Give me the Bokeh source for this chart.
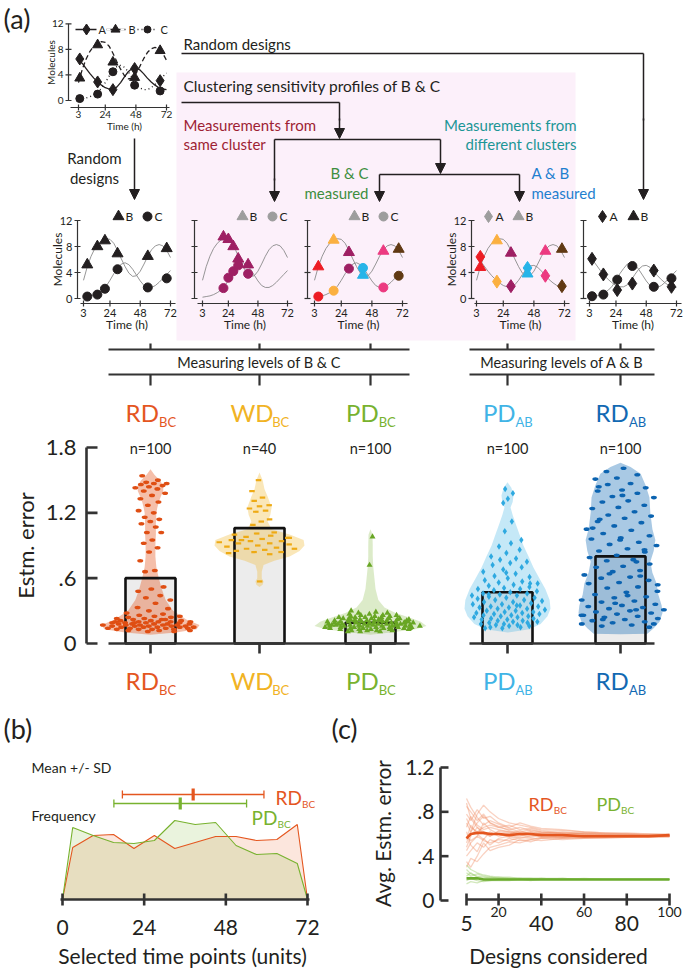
import numpy as np
from bokeh.plotting import figure
from bokeh.models import Range1d, Arrow, NormalHead
from bokeh.core.properties import value
from bokeh.embed import file_html
from bokeh.resources import INLINE

# ======================= DATA =======================
time_grid = [3, 6, 9, 12, 15, 18, 21, 24, 27, 30, 33, 36, 39, 42, 45, 48, 51, 54, 57, 60, 63, 66, 69, 72]
level_A = [6.4, 5.8, 5.0, 4.2, 3.5, 2.9, 2.4, 2.0, 1.8, 1.8, 2.1, 2.8, 3.7, 4.5, 5.0, 5.1, 4.8, 4.2, 3.5, 2.9, 2.4, 2.0, 1.8, 1.7]
level_B = [2.8, 4.9, 6.5, 7.7, 8.5, 9.0, 9.2, 9.1, 8.5, 7.4, 6.1, 4.9, 3.9, 3.4, 3.5, 4.2, 5.3, 6.5, 7.5, 8.1, 8.3, 8.1, 7.4, 6.3]
level_C = [0.2, 0.3, 0.4, 0.6, 0.9, 1.3, 1.9, 2.8, 3.8, 4.6, 5.3, 5.5, 5.2, 4.5, 3.6, 2.7, 2.0, 1.7, 1.7, 2.0, 2.5, 3.1, 3.7, 4.3]
ts_xticks = [3, 24, 48, 72]
ts_yticks = [0, 4, 8, 12]

example_t = [4, 18, 30, 47, 67]
example_A = [6.5, 2.9, 1.7, 5.0, 3.1]
example_B = [3.5, 8.7, 6.0, 3.6, 7.8]
example_C = [0.3, 1.0, 4.5, 2.4, 1.5]

rd_bc_t = [6, 14, 20, 30, 54, 69]
rd_bc_B = [5.2, 8.0, 8.9, 6.9, 6.5, 7.7]
rd_bc_C = [0.3, 0.6, 1.5, 4.5, 1.7, 3.1]

wd_bc_t = [20, 24, 28, 32, 40]
wd_bc_B = [9.5, 9.1, 8.0, 6.1, 5.2]
wd_bc_C = [1.6, 3.2, 4.2, 5.1, 3.8]

pd_bc_t = [6, 18, 30, 41, 57, 69]
pd_bc_B = [4.9, 9.0, 7.1, 3.6, 7.3, 7.6]
pd_bc_C = [0.3, 1.2, 4.6, 4.7, 1.7, 3.5]

pd_ab_t = [6, 19, 30, 43, 57, 70]
pd_ab_A = [6.4, 2.6, 1.9, 4.7, 3.5, 1.9]
pd_ab_B = [4.8, 8.9, 7.0, 3.8, 7.3, 7.6]

rd_ab_t = [5, 14, 25, 37, 54, 68]
rd_ab_A = [6.1, 3.7, 1.3, 2.3, 4.3, 1.8]
rd_ab_C = [0.35, 0.6, 2.9, 5.0, 1.8, 3.1]

group_main = ["RD", "WD", "PD", "PD", "RD"]
group_sub = ["BC", "BC", "BC", "AB", "AB"]
n_labels = ["n=100", "n=40", "n=100", "n=100", "n=100"]
mean_error = [0.60, 1.06, 0.19, 0.47, 0.80]
err_yticks = [0, 0.6, 1.2, 1.8]
err_ylabels = ["0", ".6", "1.2", "1.8"]

err_RD_BC = [1.54, 1.50, 1.48, 1.47, 1.47, 1.46, 1.45, 1.44, 1.43, 1.42,
             1.40, 1.38, 1.36, 1.33, 1.30, 1.27, 1.22, 1.20, 1.16, 1.14,
             1.12, 1.10, 1.07, 1.02, 1.02, 0.95, 0.92, 0.88, 0.84, 0.76,
             0.67, 0.66, 0.52, 0.50, 0.48, 0.44, 0.42, 0.40, 0.37, 0.33,
             0.32, 0.30, 0.28, 0.27, 0.26, 0.25, 0.25, 0.24, 0.24, 0.23,
             0.23, 0.22, 0.22, 0.21, 0.21, 0.21, 0.20, 0.20, 0.20, 0.20,
             0.19, 0.19, 0.19, 0.19, 0.18, 0.18, 0.18, 0.18, 0.18, 0.17,
             0.17, 0.17, 0.17, 0.17, 0.16, 0.16, 0.16, 0.16, 0.16, 0.15,
             0.15, 0.15, 0.15, 0.15, 0.14, 0.14, 0.14, 0.14, 0.13, 0.13,
             0.13, 0.13, 0.12, 0.12, 0.12, 0.11, 0.11, 0.20, 0.22, 0.19]
err_WD_BC = [1.50, 1.40, 1.34, 1.31, 1.27, 1.26, 1.24, 1.22, 1.21, 1.14,
             1.12, 1.09, 1.02, 1.01, 1.00, 0.99, 0.98, 0.97, 0.96, 0.95,
             0.94, 0.94, 0.93, 0.92, 0.92, 0.91, 0.90, 0.89, 0.88, 0.87,
             0.87, 0.86, 0.85, 0.84, 0.84, 0.83, 0.82, 0.95, 0.97, 0.57]
err_PD_BC = [0.98, 0.72, 0.30, 0.29, 0.28, 0.28, 0.27, 0.27, 0.26, 0.26,
             0.26, 0.25, 0.25, 0.25, 0.24, 0.24, 0.24, 0.24, 0.23, 0.23,
             0.23, 0.23, 0.22, 0.22, 0.22, 0.22, 0.22, 0.21, 0.21, 0.21,
             0.21, 0.21, 0.21, 0.20, 0.20, 0.20, 0.20, 0.20, 0.20, 0.19,
             0.19, 0.19, 0.19, 0.19, 0.19, 0.18, 0.18, 0.18, 0.18, 0.18,
             0.18, 0.17, 0.17, 0.17, 0.17, 0.17, 0.17, 0.16, 0.16, 0.16,
             0.16, 0.16, 0.16, 0.15, 0.15, 0.15, 0.15, 0.15, 0.15, 0.14,
             0.14, 0.14, 0.14, 0.14, 0.13, 0.13, 0.13, 0.13, 0.13, 0.12,
             0.12, 0.12, 0.12, 0.11, 0.11, 0.11, 0.20, 0.19, 0.18, 0.17,
             0.16, 0.15, 0.21, 0.22, 0.19, 0.18, 0.17, 0.16, 0.20, 0.14]
err_PD_AB = [1.42, 1.38, 1.33, 1.29, 1.12, 1.03, 0.95, 0.92, 0.89, 0.86,
             0.83, 0.80, 0.78, 0.77, 0.75, 0.74, 0.72, 0.70, 0.68, 0.66,
             0.64, 0.62, 0.61, 0.60, 0.58, 0.57, 0.56, 0.55, 0.54, 0.53,
             0.52, 0.51, 0.50, 0.50, 0.49, 0.48, 0.47, 0.46, 0.46, 0.45,
             0.44, 0.44, 0.43, 0.42, 0.42, 0.41, 0.40, 0.40, 0.39, 0.38,
             0.38, 0.37, 0.36, 0.36, 0.35, 0.34, 0.34, 0.33, 0.33, 0.32,
             0.32, 0.31, 0.30, 0.30, 0.29, 0.29, 0.28, 0.28, 0.27, 0.27,
             0.26, 0.26, 0.25, 0.25, 0.24, 0.24, 0.23, 0.23, 0.22, 0.22,
             0.21, 0.21, 0.20, 0.20, 0.19, 0.19, 0.18, 0.18, 0.17, 0.17,
             0.16, 0.16, 0.15, 0.15, 0.14, 0.14, 0.35, 0.45, 0.55, 0.65]
err_RD_AB = [1.61, 1.58, 1.55, 1.52, 1.51, 1.47, 1.46, 1.43, 1.41, 1.40,
             1.38, 1.35, 1.34, 1.31, 1.30, 1.27, 1.25, 1.24, 1.21, 1.18,
             1.17, 1.15, 1.12, 1.11, 1.08, 1.05, 1.04, 1.01, 0.99, 0.97,
             0.96, 0.93, 0.91, 0.90, 0.87, 0.85, 0.84, 0.81, 0.79, 0.77,
             0.76, 0.73, 0.71, 0.70, 0.67, 0.66, 0.63, 0.61, 0.60, 0.58,
             0.56, 0.55, 0.52, 0.51, 0.48, 0.47, 0.45, 0.43, 0.42, 0.40,
             0.39, 0.38, 0.36, 0.35, 0.34, 0.33, 0.32, 0.31, 0.30, 0.29,
             0.28, 0.27, 0.26, 0.25, 0.24, 0.23, 0.22, 0.21, 0.20, 0.19,
             0.18, 0.17, 0.16, 0.15, 0.95, 1.06, 0.75, 0.64, 0.54, 0.44,
             1.14, 0.86, 0.37, 0.26, 0.31, 0.22, 0.18, 1.36, 1.44, 0.62]

# violin outlines: relative density at error levels
vio_lev_RD_BC = [0.08, 0.10, 0.13, 0.17, 0.22, 0.30, 0.40, 0.50, 0.60, 0.70, 0.80, 0.90, 1.00, 1.10, 1.20, 1.25, 1.30, 1.35, 1.40, 1.45, 1.50, 1.55, 1.60]
vio_den_RD_BC = [0.00, 0.52, 0.94, 1.00, 0.73, 0.46, 0.31, 0.23, 0.17, 0.12, 0.10, 0.10, 0.11, 0.11, 0.12, 0.14, 0.17, 0.21, 0.26, 0.26, 0.19, 0.08, 0.00]
vio_lev_WD_BC = [0.52, 0.54, 0.57, 0.60, 0.66, 0.72, 0.76, 0.80, 0.85, 0.90, 0.95, 1.00, 1.05, 1.12, 1.18, 1.25, 1.35, 1.42, 1.50, 1.57]
vio_den_WD_BC = [0.00, 0.07, 0.09, 0.05, 0.05, 0.09, 0.33, 0.67, 0.89, 1.00, 0.98, 0.67, 0.27, 0.18, 0.24, 0.27, 0.18, 0.11, 0.07, 0.00]
vio_lev_PD_BC = [0.08, 0.10, 0.13, 0.16, 0.20, 0.24, 0.28, 0.33, 0.40, 0.50, 0.60, 0.70, 0.80, 0.90, 1.00, 1.05]
vio_den_PD_BC = [0.00, 0.36, 0.80, 1.00, 0.90, 0.68, 0.45, 0.25, 0.14, 0.09, 0.07, 0.05, 0.04, 0.04, 0.035, 0.00]
vio_lev_PD_AB = [0.10, 0.13, 0.18, 0.25, 0.32, 0.40, 0.50, 0.60, 0.70, 0.80, 0.90, 1.00, 1.10, 1.18, 1.25, 1.30, 1.36, 1.43, 1.48]
vio_den_PD_AB = [0.00, 0.51, 0.77, 0.93, 1.00, 0.98, 0.88, 0.74, 0.60, 0.49, 0.37, 0.28, 0.19, 0.12, 0.07, 0.12, 0.14, 0.09, 0.00]
vio_lev_RD_AB = [0.085, 0.09, 0.14, 0.20, 0.28, 0.35, 0.45, 0.55, 0.65, 0.75, 0.85, 0.95, 1.05, 1.20, 1.34, 1.45, 1.56, 1.62, 1.66]
vio_den_RD_AB = [0.00, 0.64, 0.79, 0.93, 1.00, 0.98, 0.90, 0.86, 0.76, 0.71, 0.79, 0.83, 0.76, 0.71, 0.69, 0.60, 0.48, 0.24, 0.00]

# panel (b)
bin_t = [0, 3, 9, 15, 21, 27, 33, 39, 45, 51, 57, 63, 69, 72]
freq_RD = [0, 5.2, 6.4, 6.5, 5.1, 6.4, 5.1, 5.7, 6.3, 6.3, 5.9, 6.0, 7.5, 0]
freq_PD = [0, 7.2, 6.4, 5.7, 5.6, 5.9, 7.9, 7.5, 7.7, 5.4, 4.5, 4.6, 3.6, 0]
b_xticks = [0, 24, 48, 72]
msd_mean = [38.4, 34.6]
msd_sd = [20.8, 19.5]

# panel (c)
designs_n = [5, 7, 10, 13, 16, 20, 25, 30, 35, 40, 50, 60, 70, 80, 90, 100]
rd_traces = [
    [0.85, 0.80, 0.72, 0.78, 0.70, 0.66, 0.64, 0.66, 0.63, 0.62, 0.61, 0.60, 0.60, 0.59, 0.59, 0.59],
    [0.40, 0.45, 0.52, 0.48, 0.55, 0.52, 0.56, 0.54, 0.55, 0.57, 0.56, 0.57, 0.58, 0.58, 0.58, 0.58],
    [0.70, 0.62, 0.78, 0.86, 0.80, 0.74, 0.70, 0.68, 0.66, 0.64, 0.63, 0.62, 0.61, 0.60, 0.60, 0.59],
    [0.30, 0.38, 0.35, 0.42, 0.48, 0.50, 0.53, 0.52, 0.55, 0.54, 0.56, 0.57, 0.57, 0.58, 0.58, 0.58],
    [0.92, 0.84, 0.75, 0.68, 0.72, 0.69, 0.65, 0.62, 0.64, 0.62, 0.60, 0.61, 0.60, 0.60, 0.59, 0.59],
    [0.55, 0.68, 0.60, 0.55, 0.62, 0.58, 0.60, 0.63, 0.60, 0.58, 0.59, 0.58, 0.59, 0.58, 0.58, 0.58],
    [0.62, 0.50, 0.44, 0.56, 0.50, 0.56, 0.58, 0.56, 0.58, 0.60, 0.58, 0.57, 0.58, 0.57, 0.58, 0.58],
    [0.78, 0.72, 0.82, 0.74, 0.76, 0.70, 0.66, 0.70, 0.67, 0.65, 0.64, 0.62, 0.61, 0.61, 0.60, 0.60],
    [0.48, 0.58, 0.66, 0.62, 0.58, 0.62, 0.61, 0.59, 0.57, 0.59, 0.57, 0.58, 0.57, 0.58, 0.57, 0.58],
    [0.35, 0.30, 0.40, 0.52, 0.45, 0.48, 0.50, 0.55, 0.53, 0.56, 0.55, 0.56, 0.56, 0.57, 0.57, 0.57],
    [0.66, 0.76, 0.68, 0.64, 0.66, 0.64, 0.62, 0.60, 0.62, 0.61, 0.62, 0.60, 0.59, 0.59, 0.59, 0.59],
    [0.58, 0.54, 0.58, 0.70, 0.64, 0.60, 0.57, 0.58, 0.60, 0.57, 0.57, 0.59, 0.58, 0.59, 0.58, 0.58],
    [0.74, 0.66, 0.62, 0.66, 0.68, 0.66, 0.68, 0.64, 0.65, 0.63, 0.61, 0.61, 0.60, 0.60, 0.59, 0.59],
    [0.45, 0.52, 0.58, 0.54, 0.52, 0.55, 0.54, 0.57, 0.56, 0.56, 0.57, 0.56, 0.57, 0.57, 0.58, 0.58],
    [0.88, 0.74, 0.66, 0.60, 0.58, 0.63, 0.62, 0.61, 0.59, 0.61, 0.60, 0.60, 0.59, 0.59, 0.59, 0.59],
    [0.52, 0.62, 0.70, 0.76, 0.70, 0.67, 0.63, 0.61, 0.62, 0.60, 0.59, 0.59, 0.58, 0.58, 0.58, 0.58],
]
rd_avg = [0.56, 0.60, 0.61, 0.61, 0.60, 0.60, 0.59, 0.60, 0.60, 0.59, 0.59, 0.58, 0.58, 0.58, 0.58, 0.59]
pd_traces = [
    [0.32, 0.28, 0.25, 0.23, 0.22, 0.21, 0.21, 0.20, 0.20, 0.20, 0.20, 0.19, 0.19, 0.19, 0.19, 0.19],
    [0.15, 0.17, 0.16, 0.18, 0.18, 0.19, 0.19, 0.19, 0.19, 0.19, 0.19, 0.19, 0.19, 0.19, 0.19, 0.19],
    [0.25, 0.22, 0.24, 0.22, 0.21, 0.20, 0.20, 0.20, 0.20, 0.20, 0.19, 0.20, 0.19, 0.19, 0.19, 0.19],
    [0.18, 0.20, 0.18, 0.17, 0.18, 0.18, 0.18, 0.19, 0.18, 0.19, 0.19, 0.19, 0.19, 0.19, 0.19, 0.19],
    [0.28, 0.24, 0.22, 0.21, 0.20, 0.21, 0.20, 0.20, 0.20, 0.19, 0.20, 0.19, 0.19, 0.19, 0.19, 0.19],
    [0.22, 0.25, 0.21, 0.20, 0.21, 0.20, 0.19, 0.20, 0.19, 0.20, 0.19, 0.19, 0.19, 0.19, 0.19, 0.19],
]
pd_avg = [0.20, 0.20, 0.20, 0.19, 0.19, 0.19, 0.19, 0.19, 0.19, 0.19, 0.19, 0.19, 0.19, 0.19, 0.19, 0.19]
c_xticks = [5, 20, 40, 60, 80, 100]
c_yticks = [0, 0.4, 0.8, 1.2]
c_ylabels = ["0", ".4", ".8", "1.2"]

# ======================= STYLE / LAYOUT =======================
FONT = "Lato"
INK = "#231f20"
AX = "#333333"
GRAY = "#8a8a8a"
LEG_GRAY = "#9d9d9d"
TP_COLORS = ["#ed1c24", "#fbb040", "#9e1f63", "#27b4e8", "#ec3a80", "#603913"]
WD_COLOR = "#9e1f63"
GRP_COLORS = ["#e4561f", "#f1b324", "#78b22f", "#3fb4e6", "#1269b3"]
PT_COLORS = ["#df4e13", "#eeaa14", "#68a624", "#2ea9e0", "#0b63b0"]

LEFT, RIGHT, TOP, BOTTOM = 0, 685, 0, 972
p = figure(width=RIGHT - LEFT, height=BOTTOM - TOP,
           x_range=Range1d(LEFT, RIGHT), y_range=Range1d(BOTTOM, TOP),
           output_backend="svg", toolbar_location=None,
           x_axis_location=None, y_axis_location=None, min_border=0)
p.outline_line_color = None
p.background_fill_color = "white"
p.border_fill_color = "white"
p.grid.visible = False

XR, YR = {}, {}


def xmap(d0, d1, p0, p1):
    k = (d1 - d0) / (p1 - p0)
    return Range1d(start=d0 + (LEFT - p0) * k, end=d0 + (RIGHT - p0) * k)


def ymap(d0, d1, p0, p1):
    k = (d1 - d0) / (p1 - p0)
    return Range1d(start=d0 + (BOTTOM - p0) * k, end=d0 + (TOP - p0) * k)


def txt(xs, ys, texts, size, color=INK, align="left", baseline="middle", angle=0.0,
        xr="default", yr="default", style="normal"):
    if not isinstance(texts, list):
        xs, ys, texts = [xs], [ys], [texts]
    p.text(x=list(xs), y=list(ys), text=list(texts), text_font=value(FONT),
           text_font_size=value(f"{size}px"), text_color=color, text_align=align,
           text_baseline=baseline, angle=angle, text_font_style=style,
           x_range_name=xr, y_range_name=yr)


CW = {"R": 0.63, "D": 0.74, "W": 0.98, "P": 0.60, "B": 0.63, "C": 0.67, "A": 0.68}


def sub_label(x, base, main, sub, color, ms, ss, drop, centered=True):
    mw = sum(CW[c] for c in main) * ms
    sw = sum(CW[c] for c in sub) * ss
    left = x - (mw + sw) / 2 if centered else x
    txt(left, base, main, ms, color=color, baseline="alphabetic")
    txt(left + mw + 0.5, base + drop, sub, ss, color=color, baseline="alphabetic")


def arrow(x0, y0, x1, y1):
    p.add_layout(Arrow(end=NormalHead(size=10, fill_color=INK, line_color=INK, line_width=1),
                       x_start=x0, y_start=y0, x_end=x1, y_end=y1,
                       line_color=INK, line_width=1.5))


def seg(x0, y0, x1, y1, w=1.5, color=INK, xr="default", yr="default", alpha=1.0):
    p.segment(x0=list(x0), y0=list(y0), x1=list(x1), y1=list(y1), line_width=w,
              line_color=color, line_alpha=alpha, x_range_name=xr, y_range_name=yr)


# ======================= PANEL (a) top =======================
p.quad(left=[176], right=[575], top=[72], bottom=[340], fill_color="#fcf0fa", line_color=None)

txt(3, 18, "(a)", 27)

# --- example time-course (top-left)
XR["ex_x"] = xmap(3, 72, 78, 166)
YR["ex_y"] = ymap(0, 12, 100, 23.3)
kw = dict(x_range_name="ex_x", y_range_name="ex_y")
p.line(time_grid, level_A, line_color=INK, line_width=1.3, **kw)
p.line(time_grid, level_B, line_color=INK, line_width=1.3, line_dash="5 3", **kw)
p.line(time_grid, level_C, line_color=INK, line_width=1.4, line_dash="1 3", **kw)
p.scatter(example_t, example_A, marker="diamond", size=12, color=INK, **kw)
p.scatter(example_t, example_B, marker="triangle", size=10, color=INK, **kw)
p.scatter(example_t, example_C, marker="circle", size=8, color=INK, **kw)
seg([68], [0], [68], [12], w=1.2, color=AX, yr="ex_y")
seg([65] * 4, ts_yticks, [71] * 4, ts_yticks, w=1.2, color=AX, yr="ex_y")
seg([70], [107], [169], [107], w=1.2, color=AX)
seg(ts_xticks, [104] * 4, ts_xticks, [110] * 4, w=1.2, color=AX, xr="ex_x")
txt(ts_xticks, [114] * 4, [str(t) for t in ts_xticks], 10, align="center", xr="ex_x")
txt([63] * 4, ts_yticks, [str(v) for v in ts_yticks], 10, align="right", yr="ex_y")
txt(124, 125, "Time (h)", 10, align="center")
txt(50, 62, "Molecules", 10, align="center", angle=np.pi / 2)
# legend
seg([75], [29], [96], [29], w=1.3)
p.scatter([86], [29], marker="diamond", size=11, color=INK)
txt(98, 29, "A", 11)
seg([106], [29], [125], [29], w=1.3)
p.line([106, 125], [29, 29], line_color="white", line_width=2, line_dash="4 3")
p.scatter([115], [29], marker="triangle", size=9, color=INK)
txt(128, 29, "B", 11)
p.line([137, 157], [29, 29], line_color=INK, line_width=1.4, line_dash="1 3")
p.scatter([147], [29], marker="circle", size=7, color=INK)
txt(160, 29, "C", 11)

# --- flow diagram
txt(183, 43, "Random designs", 15)
seg([181, 643], [53, 53], [643, 643], [53, 120], w=1.5)
arrow(643, 118, 643, 199)
txt(183, 85, "Clustering sensitivity  profiles of B & C", 15.5)
seg([181, 339], [102, 102], [339, 339], [102, 120], w=1.5)
arrow(339, 118, 339, 138)
seg([274], [139], [440], [139], w=1.5)
seg([274], [139], [274], [180], w=1.5)
arrow(274, 178, 274, 201)
arrow(440, 139, 440, 173)
seg([379], [174], [519], [174], w=1.5)
arrow(379, 174, 379, 201)
arrow(519, 174, 519, 201)
arrow(134, 138, 134, 199)
txt(94, 157, "Random", 15, align="center")
txt(94, 177, "designs", 15, align="center")
txt(183, 124, "Measurements from", 15, color="#9e1f34")
txt(183, 143, "same cluster", 15, color="#9e1f34")
txt(576, 124, "Measurements from", 15, color="#1c9696", align="right")
txt(576, 143, "different clusters", 15, color="#1c9696", align="right")
txt(368, 172, "B & C", 15, color="#3e8e3e", align="right")
txt(368, 192, "measured", 15, color="#3e8e3e", align="right")
txt(531, 172, "A & B", 15, color="#1f7fcf")
txt(531, 192, "measured", 15, color="#1f7fcf")

# --- row of five design plots
ROW_Y0, ROW_Y12, XAX_Y = 298, 220, 303


def ts_panel(key, x3, x72, ax_x, curves, series, legend, ylab):
    nx, ny = key + "_x", key + "_y"
    XR[nx] = xmap(3, 72, x3, x72)
    YR[ny] = ymap(0, 12, ROW_Y0, ROW_Y12)
    for vals in curves:
        p.line(time_grid, vals, line_color=GRAY, line_width=0.9, x_range_name=nx, y_range_name=ny)
    for times, vals, marker, size, cols in series:
        p.scatter(times, vals, marker=marker, size=size, fill_color=cols, line_color=cols,
                  x_range_name=nx, y_range_name=ny)
    seg([ax_x], [0], [ax_x], [12], w=1.2, color=AX, yr=ny)
    seg([ax_x - 3] * 4, ts_yticks, [ax_x + 3] * 4, ts_yticks, w=1.2, color=AX, yr=ny)
    seg([ax_x + 3], [XAX_Y], [x72 + 5], [XAX_Y], w=1.2, color=AX)
    seg(ts_xticks, [XAX_Y - 3] * 4, ts_xticks, [XAX_Y + 3] * 4, w=1.2, color=AX, xr=nx)
    txt(ts_xticks, [312] * 4, [str(t) for t in ts_xticks], 11, align="center", xr=nx)
    txt((x3 + x72) / 2, 324, "Time (h)", 12, align="center")
    if ylab:
        txt([ax_x - 5] * 4, ts_yticks, [str(v) for v in ts_yticks], 11, align="right", yr=ny)
        txt(ax_x - 20, (ROW_Y0 + ROW_Y12) / 2, "Molecules", 12, align="center", angle=np.pi / 2)
    for mk, col, lab, lx, sz in legend:
        p.scatter([lx], [216], marker=mk, size=sz, color=col)
        txt(lx + 7, 216, lab, 12)


ts_panel("rdbc", 83, 170, 77, [level_B, level_C],
         [(rd_bc_t, rd_bc_B, "triangle", 11, INK), (rd_bc_t, rd_bc_C, "circle", 9, INK)],
         [("triangle", INK, "B", 118, 11), ("circle", INK, "C", 147, 9)], True)
ts_panel("wdbc", 202, 287, 194, [level_B, level_C],
         [(wd_bc_t, wd_bc_B, "triangle", 11, WD_COLOR), (wd_bc_t, wd_bc_C, "circle", 9, WD_COLOR)],
         [("triangle", LEG_GRAY, "B", 242, 11), ("circle", LEG_GRAY, "C", 272, 9)], False)
ts_panel("pdbc", 314, 402, 307, [level_B, level_C],
         [(pd_bc_t, pd_bc_B, "triangle", 11, TP_COLORS), (pd_bc_t, pd_bc_C, "circle", 9, TP_COLORS)],
         [("triangle", LEG_GRAY, "B", 354, 11), ("circle", LEG_GRAY, "C", 383, 9)], False)
ts_panel("pdab", 476, 564, 471, [level_A, level_B],
         [(pd_ab_t, pd_ab_A, "diamond", 13, TP_COLORS), (pd_ab_t, pd_ab_B, "triangle", 11, TP_COLORS)],
         [("diamond", LEG_GRAY, "A", 488, 12), ("triangle", LEG_GRAY, "B", 518, 11)], True)
ts_panel("rdab", 589, 676, 583, [level_A, level_C],
         [(rd_ab_t, rd_ab_A, "diamond", 13, INK), (rd_ab_t, rd_ab_C, "circle", 9, INK)],
         [("diamond", INK, "A", 602, 12), ("triangle", INK, "B", 633, 11)], False)

# ======================= PANEL (a) violins =======================
cat_x = [150, 259, 370, 507, 620]
vio_max = [49, 45, 56, 43, 42]
vio_lev = [vio_lev_RD_BC, vio_lev_WD_BC, vio_lev_PD_BC, vio_lev_PD_AB, vio_lev_RD_AB]
vio_den = [vio_den_RD_BC, vio_den_WD_BC, vio_den_PD_BC, vio_den_PD_AB, vio_den_RD_AB]
errs = [err_RD_BC, err_WD_BC, err_PD_BC, err_PD_AB, err_RD_AB]
vio_alpha = [0.38, 0.32, 0.26, 0.30, 0.36]
jit_extra = [7, 3, 2, 2, 9]

YR["err"] = ymap(0, 1.8, 643, 447)

# brackets
seg([108, 469], [349, 349], [409, 654], [349, 349], w=2.2, color=AX)
seg([108, 469], [374, 374], [409, 654], [374, 374], w=2.2, color=AX)
seg(cat_x, [343] * 5, cat_x, [349] * 5, w=2.2, color=AX)
seg(cat_x, [374] * 5, cat_x, [385] * 5, w=2.2, color=AX)
txt(258.5, 362, "Measuring levels of B & C", 14.5, align="center")
txt(561.5, 362, "Measuring levels of A & B", 14.5, align="center")

for i in range(5):
    sub_label(cat_x[i], 412, group_main[i], group_sub[i], GRP_COLORS[i], 24, 13, 9)
    sub_label(cat_x[i], 680, group_main[i], group_sub[i], GRP_COLORS[i], 24, 13, 9)

txt(cat_x, [448] * 5, n_labels, 14.5, align="center")

# bars (fill)
p.quad(left=[c - 25 for c in cat_x], right=[c + 25 for c in cat_x], bottom=[0] * 5, top=mean_error,
       fill_color="#ececec", line_color=None, y_range_name="err")
# violins
for i in range(5):
    lev = list(vio_lev[i])
    hw = [d * vio_max[i] for d in vio_den[i]]
    xs = [cat_x[i] + h for h in hw] + [cat_x[i] - h for h in hw[::-1]]
    ys = lev + lev[::-1]
    p.patch(xs, ys, fill_color=GRP_COLORS[i], fill_alpha=vio_alpha[i], line_color=None,
            y_range_name="err")
# bar outlines
p.quad(left=[c - 25 for c in cat_x], right=[c + 25 for c in cat_x], bottom=[0] * 5, top=mean_error,
       fill_color=None, line_color="#111111", line_width=2.6, y_range_name="err")

# points
phases = [0.13, 0.41, 0.77, 0.29, 0.58]
for i in range(5):
    vals = np.array(errs[i])
    w = np.interp(vals, vio_lev[i], vio_den[i]) * vio_max[i]
    u = ((np.arange(len(vals)) * 0.6180339887 + phases[i]) % 1.0) * 2 - 1
    xs = cat_x[i] + u * (w * 0.85 + jit_extra[i])
    col = PT_COLORS[i]
    if i in (0, 4):
        p.ellipse(x=list(xs), y=list(vals), width=6, height=3.6, width_units="screen",
                  height_units="screen", fill_color=col, line_color=None, y_range_name="err")
    elif i == 1:
        p.rect(x=list(xs), y=list(vals), width=5.5, height=2.2, width_units="screen",
               height_units="screen", fill_color=col, line_color=None, y_range_name="err")
    elif i == 2:
        p.scatter(list(xs), list(vals), marker="triangle", size=6, fill_color=col, line_color=None,
                  y_range_name="err")
    else:
        p.scatter(list(xs), list(vals), marker="diamond", size=6.5, fill_color=col, line_color=None,
                  y_range_name="err")

# axes
seg([86], [0], [86], [1.8], w=2.6, color=AX, yr="err")
seg([86] * 4, err_yticks, [97] * 4, err_yticks, w=2.6, color=AX, yr="err")
txt([76] * 4, err_yticks, err_ylabels, 22, align="right", yr="err")
txt(25, 545, "Estm. error", 22, align="center", angle=np.pi / 2)
seg([108, 469], [643, 643], [409, 654], [643, 643], w=2.6, color=AX)
seg(cat_x, [643] * 5, cat_x, [653] * 5, w=2.6, color=AX)

# ======================= PANEL (b) =======================
txt(3, 728, "(b)", 27)
XR["b_x"] = xmap(0, 72, 62, 307)
YR["b_y"] = ymap(0, 10, 899, 799)
p.varea(x=bin_t, y1=[0] * len(bin_t), y2=freq_RD, fill_color="#e8541e", fill_alpha=0.15,
        x_range_name="b_x", y_range_name="b_y")
p.varea(x=bin_t, y1=[0] * len(bin_t), y2=freq_PD, fill_color="#7ab42e", fill_alpha=0.16,
        x_range_name="b_x", y_range_name="b_y")
p.line(bin_t, freq_RD, line_color="#e4561f", line_width=1.1, x_range_name="b_x", y_range_name="b_y")
p.line(bin_t, freq_PD, line_color="#78b22f", line_width=1.1, x_range_name="b_x", y_range_name="b_y")
seg([60], [899], [309], [899], w=2.6, color=AX)
seg(b_xticks, [893] * 4, b_xticks, [905] * 4, w=2.6, color=AX, xr="b_x")
txt(b_xticks, [927] * 4, [str(t) for t in b_xticks], 21, align="center", xr="b_x")
txt(182, 955, "Selected time points (units)", 21, align="center")
txt(31, 767, "Mean +/- SD", 14)
txt(31, 815, "Frequency", 14)
msd_y = [794, 803]
msd_col = ["#e4561f", "#78b22f"]
for j in range(2):
    lo, hi = msd_mean[j] - msd_sd[j], msd_mean[j] + msd_sd[j]
    seg([lo], [msd_y[j]], [hi], [msd_y[j]], w=1.3, color=msd_col[j], xr="b_x")
    seg([lo, hi], [msd_y[j] - 4] * 2, [lo, hi], [msd_y[j] + 4] * 2, w=1.3, color=msd_col[j], xr="b_x")
    seg([msd_mean[j]], [msd_y[j] - 6], [msd_mean[j]], [msd_y[j] + 6], w=3.2, color=msd_col[j], xr="b_x")
sub_label(275, 797, "RD", "BC", "#e4561f", 19, 10, 6, centered=False)
sub_label(251, 817, "PD", "BC", "#78b22f", 19, 10, 6, centered=False)

# ======================= PANEL (c) =======================
txt(331, 728, "(c)", 27)
XR["c_x"] = xmap(5, 100, 466, 669)
YR["c_y"] = ymap(0, 1.2, 900, 767)
p.multi_line(xs=[designs_n] * len(rd_traces), ys=rd_traces, line_color="#ef8a5e", line_alpha=0.38,
             line_width=1.3, x_range_name="c_x", y_range_name="c_y")
p.multi_line(xs=[designs_n] * len(pd_traces), ys=pd_traces, line_color="#9bcc6a", line_alpha=0.45,
             line_width=1.3, x_range_name="c_x", y_range_name="c_y")
p.line(designs_n, rd_avg, line_color="#e4561f", line_width=2.6, x_range_name="c_x", y_range_name="c_y")
p.line(designs_n, pd_avg, line_color="#6aab2c", line_width=2.6, x_range_name="c_x", y_range_name="c_y")
seg([440], [0], [440], [1.2], w=2.6, color=AX, yr="c_y")
seg([440] * 4, c_yticks, [448] * 4, c_yticks, w=2.6, color=AX, yr="c_y")
txt([434] * 4, c_yticks, c_ylabels, 21, align="right", yr="c_y")
txt(382, 833, "Avg. Estm. error", 21, align="center", angle=np.pi / 2)
seg([466], [899], [669], [899], w=2.6, color=AX)
seg(c_xticks, [893] * 6, c_xticks, [905] * 6, w=2.6, color=AX, xr="c_x")
big = [t for k, t in enumerate(c_xticks) if k % 2 == 0]
small = [t for k, t in enumerate(c_xticks) if k % 2 == 1]
txt(big, [923] * len(big), [str(t) for t in big], 21, align="center", xr="c_x")
txt(small, [911] * len(small), [str(t) for t in small], 14, align="center", xr="c_x")
txt(558, 955, "Designs considered", 21, align="center")
sub_label(528, 803, "RD", "BC", "#e4561f", 18, 10, 6, centered=False)
sub_label(596, 803, "PD", "BC", "#78b22f", 18, 10, 6, centered=False)

p.extra_x_ranges = XR
p.extra_y_ranges = YR

open("out.html", "w").write(file_html(p, INLINE))
